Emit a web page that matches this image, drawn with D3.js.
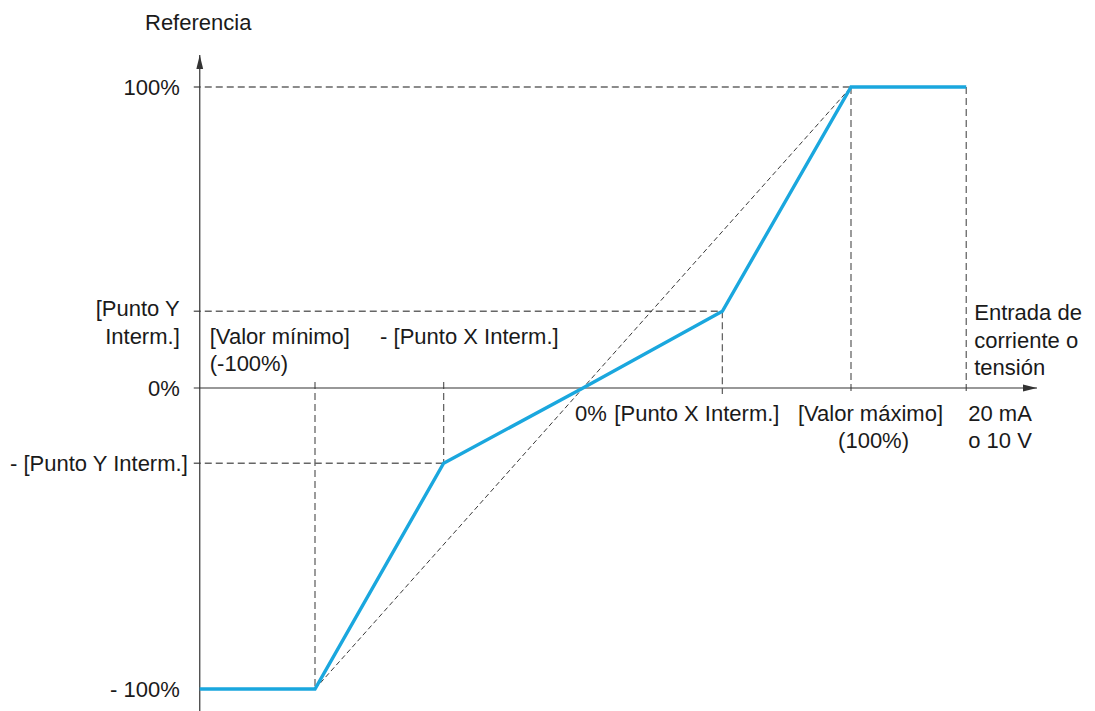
<!DOCTYPE html>
<html>
<head>
<meta charset="utf-8">
<script src="https://cdn.jsdelivr.net/npm/d3@7"></script>
<style>
  body { margin: 0; background: #fff; }
  text { font-family: "Liberation Sans", Arial, sans-serif; font-size: 22px; fill: #1a1a1a; }
</style>
</head>
<body>
<div id="chart"></div>
<script>
// input values (% of range), ends of the drawing are the 0 / 20 mA marks
const xValues = [-143, -100, -52, 0, 52, 100, 143];
// reference output (%) at each input value
const yValues = [-100, -100, -25, 0, 25.5, 100, 100];

// dashed guides: horizontal [y, x end], vertical [x, y from, y to]
const hGuides = [[100, 100], [25.5, 52], [-25, -52]];
const vGuides = [[-100, 0, -100], [-52, 0, -25], [52, 25.5, 0], [100, 100, 0], [143, 100, 0]];
const diagonal = [[-100, -100], [100, 100]];

const yTickLabels = [
  {v: 100, lines: ['100%']},
  {v: 25.5, lines: ['[Punto Y', 'Interm.]']},
  {v: 0, lines: ['0%']},
  {v: -25, lines: ['- [Punto Y Interm.]']},
  {v: -100, lines: ['- 100%']}
];

const width = 1095, height = 711;

const svg = d3.select('#chart')
  .append('svg')
    .attr('width', width)
    .attr('height', height);

const x = d3.scaleLinear().domain([-100, 100]).range([315, 851]);
const y = d3.scaleLinear().domain([-100, 100]).range([689, 87]);

const x0 = x(-143), y0 = y(0);

const defs = svg.append('defs');
defs.append('marker')
    .attr('id', 'arrow')
    .attr('viewBox', '0 0 14 8')
    .attr('refX', 14).attr('refY', 4)
    .attr('markerWidth', 14).attr('markerHeight', 8)
    .attr('markerUnits', 'userSpaceOnUse')
    .attr('orient', 'auto')
  .append('path')
    .attr('d', 'M0,0.6 L14,4 L0,7.4 Z')
    .attr('fill', '#333');

// guides
const guides = svg.append('g')
  .attr('stroke', '#666')
  .attr('stroke-width', 1.3)
  .attr('stroke-dasharray', '7,4')
  .attr('fill', 'none');

hGuides.forEach(d => {
  guides.append('line')
    .attr('x1', x0 - 6).attr('x2', x(d[1]))
    .attr('y1', y(d[0])).attr('y2', y(d[0]));
});
vGuides.forEach(d => {
  const a = y(d[1]) + (d[1] === 0 ? -6 : 0);
  const b = y(d[2]) + (d[2] === 0 ? 6 : 0);
  guides.append('line')
    .attr('x1', x(d[0])).attr('x2', x(d[0]))
    .attr('y1', a).attr('y2', b);
});

svg.append('line')
  .attr('x1', x(diagonal[0][0])).attr('y1', y(diagonal[0][1]))
  .attr('x2', x(diagonal[1][0])).attr('y2', y(diagonal[1][1]))
  .attr('stroke', '#222')
  .attr('stroke-width', 0.9)
  .attr('stroke-dasharray', '5,3');

// axes
svg.append('line')
  .attr('x1', x0).attr('x2', x0)
  .attr('y1', height).attr('y2', 55)
  .attr('stroke', '#333').attr('stroke-width', 1.2)
  .attr('marker-end', 'url(#arrow)');

svg.append('line')
  .attr('x1', x0 - 6).attr('x2', 1037)
  .attr('y1', y0).attr('y2', y0)
  .attr('stroke', '#333').attr('stroke-width', 1.2)
  .attr('marker-end', 'url(#arrow)');

// transfer curve
const line = d3.line()
  .x((d, i) => x(d))
  .y((d, i) => y(yValues[i]));

svg.append('path')
  .datum(xValues)
  .attr('d', line)
  .attr('fill', 'none')
  .attr('stroke', '#1aa7de')
  .attr('stroke-width', 3.4)
  .attr('stroke-linejoin', 'miter');

// y labels
const yl = svg.append('g').attr('text-anchor', 'end');
yTickLabels.forEach(t => {
  const n = t.lines.length;
  const xp = t.v === -25 ? x0 - 12 : x0 - 20;
  const txt = yl.append('text')
    .attr('x', xp)
    .attr('y', y(t.v) + (n > 1 ? 5 : 8));
  t.lines.forEach((s, i) => {
    txt.append('tspan')
      .attr('x', xp)
      .attr('dy', i === 0 ? 0 : 28)
      .text(s);
  });
});

function multi(xp, yp, lines, gap, anchor) {
  const t = svg.append('text')
    .attr('x', xp).attr('y', yp)
    .attr('text-anchor', anchor || 'start');
  lines.forEach((s, i) => {
    t.append('tspan').attr('x', xp).attr('dy', i === 0 ? 0 : gap).text(s);
  });
}

multi(145, 30, ['Referencia'], 0);
multi(x0 + 10, y(25.5) + 33, ['[Valor mínimo]', '(-100%)'], 27);
multi(x(-52) + 115, y(25.5) + 33, ['- [Punto X Interm.]'], 0, 'end');
multi(x(0) - 8, y0 + 33, ['0%'], 0);
multi(x(52) - 108, y0 + 33, ['[Punto X Interm.]'], 0);
multi(x(100) + 92, y0 + 33, ['[Valor máximo]'], 0, 'end');
multi(x(100) + 58, y0 + 60, ['(100%)'], 0, 'end');
multi(x(143) + 2, y0 + 33, ['20 mA', 'o 10 V'], 27);
multi(x(143) + 8, y(25.5) + 9, ['Entrada de', 'corriente o', 'tensión'], 27.5);
</script>
</body>
</html>
